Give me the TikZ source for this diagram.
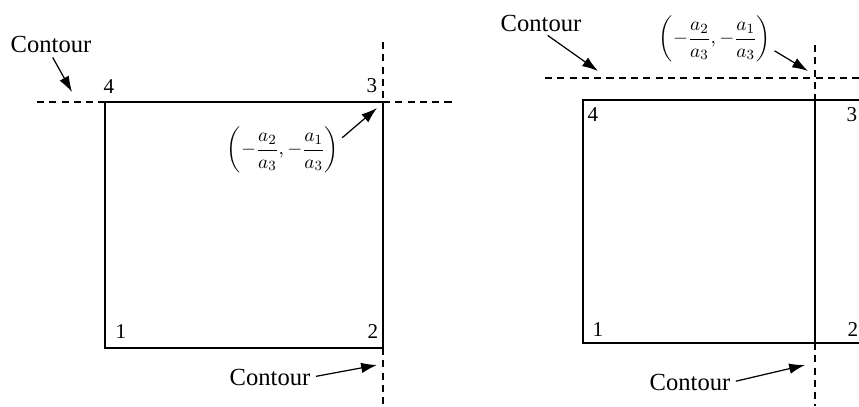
\documentclass[tikz,border=0pt]{standalone}
\usepackage{amsmath}
\usepackage{fontspec}
\setmainfont{Liberation Serif}
\usetikzlibrary{arrows.meta}
\tikzset{
  box/.style={line width=0.8pt},
  contour/.style={line width=0.6pt, dash pattern=on 4pt off 3pt},
  pointer/.style={-{Latex[length=9pt,width=6pt]}, line width=0.7pt, shorten <=2pt},
  lbl/.style={font=\fontsize{14}{16}\selectfont, inner sep=1pt},
  frac/.style={font=\fontsize{11}{13}\selectfont, inner sep=0pt},
  corner/.style={font=\fontsize{12}{14}\selectfont, inner sep=1pt},
}

\begin{document}
\begin{tikzpicture}[x=0.02cm, y=-0.02cm]
  \useasboundingbox (0,0) rectangle (859,406);
  \clip (0,0) rectangle (859,406);
  % left: contours through corners 4 and 2
  \draw[box] (105,102) rectangle (383,348);
  \draw[contour] (37,102) -- (105,102);
  \draw[contour] (383,102) -- (452,102);
  \draw[contour] (383,42) -- (383,102);
  \draw[contour] (383,348) -- (383,406);
  \node[corner] (l1) at (121,332) {1};
  \node[corner] (l2) at (373,332) {2};
  \node[corner] (l3) at (372,86) {3};
  \node[corner] (l4) at (109,87) {4};
  \node[lbl] (contA) at (51,44) {Contour};
  \coordinate (tipA) at (72,92);
  \draw[pointer] (contA.south) -- (tipA);
  \node[frac] (ptA) at (283,150) {$\left(-\dfrac{a_2}{a_3},-\dfrac{a_1}{a_3}\right)$};
  \coordinate (tipP) at (377,108);
  \draw[pointer] (ptA.10) -- (tipP);
  \node[lbl] (contB) at (270,377) {Contour};
  \coordinate (tipB) at (377,365);
  \draw[pointer] (contB.east) -- (tipB);
  % right: contours through the corner point
  \draw[box] (870,100) -- (583,100) -- (583,343) -- (870,343);
  \draw[box] (815,100) -- (815,343);
  \draw[contour] (545,78) -- (859,78);
  \draw[contour] (815,45) -- (815,100);
  \draw[contour] (815,343) -- (815,406);
  \node[corner] (r1) at (598,330) {1};
  \node[corner] (r2) at (853,330) {2};
  \node[corner] (r3) at (852,115) {3};
  \node[corner] (r4) at (593,115) {4};
  \node[lbl] (contC) at (541,23) {Contour};
  \coordinate (tipC) at (598,71);
  \draw[pointer] (contC.-70) -- (tipC);
  \node[frac] (ptB) at (715,39) {$\left(-\dfrac{a_2}{a_3},-\dfrac{a_1}{a_3}\right)$};
  \coordinate (tipQ) at (808,71);
  \draw[pointer] (ptB.-10) -- (tipQ);
  \node[lbl] (contD) at (690,382) {Contour};
  \coordinate (tipD) at (805,365);
  \draw[pointer] (contD.east) -- (tipD);
\end{tikzpicture}
\end{document}
